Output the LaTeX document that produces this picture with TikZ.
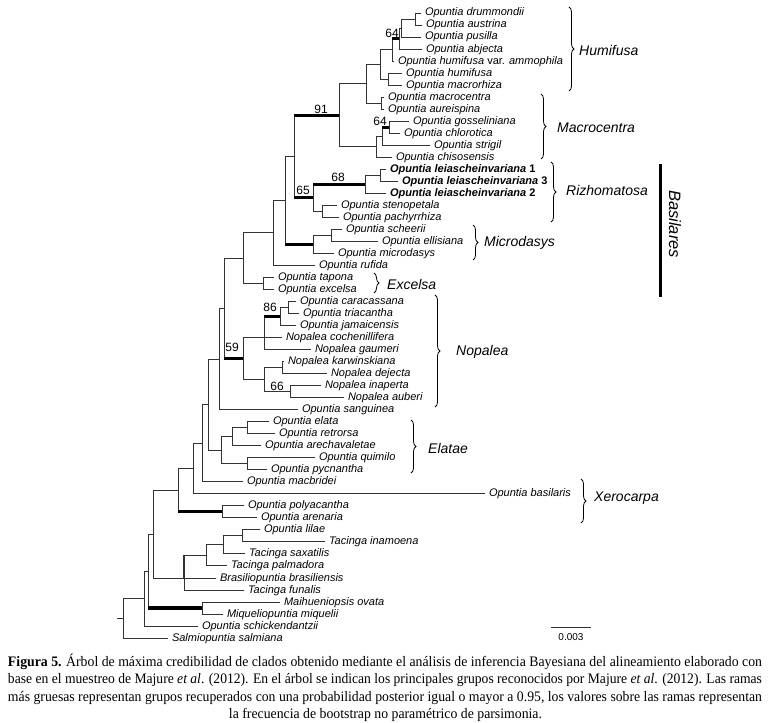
\documentclass[tikz,border=0pt]{standalone}
\usepackage{fontspec}
\usepackage{graphicx}
\usetikzlibrary{decorations.pathreplacing}
\setmainfont{Liberation Serif}
\newfontfamily\tfont{Liberation Sans}
\newcommand\kids[3]{\draw[br] (#1|-#2) -- (#1|-#3); \draw[br] (#1|-#2) -- (#2); \draw[br] (#1|-#3) -- (#3);}
\newcommand\kidsiii[4]{\draw[br] (#1|-#2) -- (#1|-#4); \draw[br] (#1|-#2) -- (#2); \draw[br] (#1|-#3) -- (#3); \draw[br] (#1|-#4) -- (#4);}
\tikzset{
 br/.style={draw=black!80, line width=0.9pt, line cap=rect},
 thk/.style={draw=black, line width=3.2pt},
 tip/.style={anchor=west, inner xsep=4pt, inner ysep=0pt, outer sep=0pt, text height=8pt, text depth=2pt, font=\tfont\fontsize{11}{12}\selectfont\itshape},
 bs/.style={font=\tfont\fontsize{12}{12}\selectfont, inner sep=0pt},
 grp/.style={anchor=west, inner sep=0pt, font=\tfont\fontsize{14}{14}\selectfont\itshape},
 brc/.style={decorate, decoration={brace, amplitude=5pt}, line width=0.8pt},
 capn/.style={inner sep=0pt, font=\fontsize{14.5}{16}\selectfont},
}
\begin{document}
\begin{tikzpicture}[x=1pt,y=-1pt]
\useasboundingbox (0,0) rectangle (775,722);
\fill[white] (0,0) rectangle (775,722);
% tips
\node[tip] (t1) at (421,13.0) {Opuntia drummondii};
\node[tip] (t2) at (422,25.0) {Opuntia austrina};
\node[tip] (t3) at (421,37.0) {Opuntia pusilla};
\node[tip] (t4) at (422,49.1) {Opuntia abjecta};
\node[tip] (t5) at (394,61.1) {Opuntia humifusa {\upshape var.} ammophila};
\node[tip] (t6) at (402,73.1) {Opuntia humifusa};
\node[tip] (t7) at (402,85.1) {Opuntia macrorhiza};
\node[tip] (t8) at (384,97.1) {Opuntia macrocentra};
\node[tip] (t9) at (384,109.2) {Opuntia aureispina};
\node[tip] (t10) at (409,121.2) {Opuntia gosseliniana};
\node[tip] (t11) at (400,133.2) {Opuntia chlorotica};
\node[tip] (t12) at (430,145.2) {Opuntia strigil};
\node[tip] (t13) at (392,157.2) {Opuntia chisosensis};
\node[tip] (t14) at (386,169.3) {\bfseries Opuntia leiascheinvariana {\upshape 1}};
\node[tip] (t15) at (398,181.3) {\bfseries Opuntia leiascheinvariana {\upshape 3}};
\node[tip] (t16) at (386,193.3) {\bfseries Opuntia leiascheinvariana {\upshape 2}};
\node[tip] (t17) at (337,205.3) {Opuntia stenopetala};
\node[tip] (t18) at (339,217.3) {Opuntia pachyrrhiza};
\node[tip] (t19) at (342,229.4) {Opuntia scheerii};
\node[tip] (t20) at (378,241.4) {Opuntia ellisiana};
\node[tip] (t21) at (334,253.4) {Opuntia microdasys};
\node[tip] (t22) at (315,265.4) {Opuntia rufida};
\node[tip] (t23) at (274,277.4) {Opuntia tapona};
\node[tip] (t24) at (274,289.5) {Opuntia excelsa};
\node[tip] (t25) at (296,301.5) {Opuntia caracassana};
\node[tip] (t26) at (299,313.5) {Opuntia triacantha};
\node[tip] (t27) at (296,325.5) {Opuntia jamaicensis};
\node[tip] (t28) at (282,337.5) {Nopalea cochenillifera};
\node[tip] (t29) at (311,349.6) {Nopalea gaumeri};
\node[tip] (t30) at (284,361.6) {Nopalea karwinskiana};
\node[tip] (t31) at (327,373.6) {Nopalea dejecta};
\node[tip] (t32) at (321,385.6) {Nopalea inaperta};
\node[tip] (t33) at (344,397.6) {Nopalea auberi};
\node[tip] (t34) at (298,409.7) {Opuntia sanguinea};
\node[tip] (t35) at (269,421.7) {Opuntia elata};
\node[tip] (t36) at (275,433.7) {Opuntia retrorsa};
\node[tip] (t37) at (261,445.7) {Opuntia arechavaletae};
\node[tip] (t38) at (315,457.8) {Opuntia quimilo};
\node[tip] (t39) at (267,469.8) {Opuntia pycnantha};
\node[tip] (t40) at (243,481.8) {Opuntia macbridei};
\node[tip] (t41) at (485,493.8) {Opuntia basilaris};
\node[tip] (t42) at (244,505.8) {Opuntia polyacantha};
\node[tip] (t43) at (257,517.9) {Opuntia arenaria};
\node[tip] (t44) at (260,529.9) {Opuntia lilae};
\node[tip] (t45) at (325,541.9) {Tacinga inamoena};
\node[tip] (t46) at (245,553.9) {Tacinga saxatilis};
\node[tip] (t47) at (227,565.9) {Tacinga palmadora};
\node[tip] (t48) at (216,578.0) {Brasiliopuntia brasiliensis};
\node[tip] (t49) at (244,590.0) {Tacinga funalis};
\node[tip] (t50) at (280,602.0) {Maihueniopsis ovata};
\node[tip] (t51) at (223,614.0) {Miqueliopuntia miquelii};
\node[tip] (t52) at (198,626.0) {Opuntia schickendantzii};
\node[tip] (t53) at (168,638.1) {Salmiopuntia salmiana};
% internal nodes
\coordinate (a1) at (415,19.0);
\coordinate (a2) at (401,28.0);
\coordinate (a3) at (399,38.55);
\coordinate (a4) at (392,49.8);
\coordinate (a5) at (388,79.1);
\coordinate (a6) at (380,64.45);
\coordinate (b1) at (381,103.15);
\coordinate (a7) at (366,83.8);
\coordinate (b2) at (389,127.2);
\coordinate (b3) at (382,136.2);
\coordinate (b4) at (376,146.7);
\coordinate (a8) at (339,115.25);
\coordinate (c1) at (380,175.3);
\coordinate (c2) at (365,184.3);
\coordinate (c3) at (322,211.3);
\coordinate (c4) at (313,197.8);
\coordinate (s1) at (294,156.5);
\coordinate (d1) at (331,235.4);
\coordinate (d2) at (313,244.4);
\coordinate (s2) at (285,200.45);
\coordinate (s3) at (273,232.9);
\coordinate (e1) at (263,283.45);
\coordinate (s4) at (243,258.2);
\coordinate (f1) at (288,307.5);
\coordinate (f2) at (280,316.5);
\coordinate (f3) at (264,337.5);
\coordinate (f4) at (282,367.6);
\coordinate (f5) at (290,391.6);
\coordinate (f6) at (264,379.6);
\coordinate (f7) at (243,358.55);
\coordinate (s5) at (224,308.4);
\coordinate (s6) at (219,359.05);
\coordinate (g1) at (247,427.7);
\coordinate (g2) at (232,436.7);
\coordinate (g3) at (247,463.8);
\coordinate (g4) at (221,450.25);
\coordinate (s7) at (208,404.65);
\coordinate (s8) at (202,443.2);
\coordinate (s9) at (193,468.5);
\coordinate (h1) at (222,511.85);
\coordinate (s10) at (178,490.2);
\coordinate (i1) at (242,535.9);
\coordinate (i2) at (223,544.9);
\coordinate (i3) at (206,555.4);
\coordinate (i4) at (184,578.0);
\coordinate (s11) at (153,534.1);
\coordinate (j1) at (202,608);
\coordinate (s12) at (148,571.05);
\coordinate (s13) at (144,598.5);
\coordinate (s14) at (123,618.3);
\coordinate (root) at (117,618.3);
% branches
\kids{a1}{t1.west}{t2.west}
\kids{a2}{a1}{t3.west}
\kids{a3}{a2}{t4.west}
\kids{a4}{a3}{t5.west}
\kids{a5}{t6.west}{t7.west}
\kids{a6}{a4}{a5}
\kids{b1}{t8.west}{t9.west}
\kids{a7}{a6}{b1}
\kids{b2}{t10.west}{t11.west}
\kids{b3}{b2}{t12.west}
\kids{b4}{b3}{t13.west}
\kids{a8}{a7}{b4}
\kids{c1}{t14.west}{t15.west}
\kids{c2}{c1}{t16.west}
\kids{c3}{t17.west}{t18.west}
\kids{c4}{c2}{c3}
\kids{s1}{a8}{c4}
\kids{d1}{t19.west}{t20.west}
\kids{d2}{d1}{t21.west}
\kids{s2}{s1}{d2}
\kids{s3}{s2}{t22.west}
\kids{e1}{t23.west}{t24.west}
\kids{s4}{s3}{e1}
\kids{f1}{t25.west}{t26.west}
\kids{f2}{f1}{t27.west}
\kidsiii{f3}{f2}{t28.west}{t29.west}
\kids{f4}{t30.west}{t31.west}
\kids{f5}{t32.west}{t33.west}
\kids{f6}{f4}{f5}
\kids{f7}{f3}{f6}
\kids{s5}{s4}{f7}
\kids{s6}{s5}{t34.west}
\kids{g1}{t35.west}{t36.west}
\kids{g2}{g1}{t37.west}
\kids{g3}{t38.west}{t39.west}
\kids{g4}{g2}{g3}
\kids{s7}{s6}{g4}
\kids{s8}{s7}{t40.west}
\kids{s9}{s8}{t41.west}
\kids{h1}{t42.west}{t43.west}
\kids{s10}{s9}{h1}
\kids{i1}{t44.west}{t45.west}
\kids{i2}{i1}{t46.west}
\kids{i3}{i2}{t47.west}
\kidsiii{i4}{i3}{t48.west}{t49.west}
\kids{s11}{s10}{i4}
\kids{j1}{t50.west}{t51.west}
\kids{s12}{s11}{j1}
\kids{s13}{s12}{t52.west}
\kids{s14}{s13}{t53.west}
\draw[br] (root) -- (s14);
\draw[br, line width=1.8pt, line cap=butt] (i4|-i3) -- (i4);
% thick branches
\draw[thk] (a4|-a3) -- (a3);
\draw[thk] (b3|-b2) -- (b2);
\draw[thk] (s1|-a8) -- (a8);
\draw[thk] (s1|-c4) -- (c4);
\draw[thk] (c4|-c2) -- (c2);
\draw[thk] (s2|-d2) -- (d2);
\draw[thk] (f3|-f2) -- (f2);
\draw[thk] (s5|-f7) -- (f7);
\draw[thk] (s10|-h1) -- (h1);
\draw[thk] (s12|-j1) -- (j1);
% bootstrap values
\node[bs] (n64a) at (392,33) {64};
\node[bs] (n91) at (321,109) {91};
\node[bs] (n64b) at (380,121) {64};
\node[bs] (n68) at (338,177) {68};
\node[bs] (n65) at (303,190) {65};
\node[bs] (n86) at (270,307) {86};
\node[bs] (n59) at (232,347) {59};
\node[bs] (n66) at (277,386) {66};
% braces and group names
\coordinate (hu1) at (569,7); \coordinate (hu2) at (569,91);
\draw[brc] (hu1) -- (hu2);
\node[grp] (ghu) at (579,50) {Humifusa};
\coordinate (ma1) at (541,94); \coordinate (ma2) at (541,159);
\draw[brc] (ma1) -- (ma2);
\node[grp] (gma) at (557,128) {Macrocentra};
\coordinate (ri1) at (551,162); \coordinate (ri2) at (551,222);
\draw[brc] (ri1) -- (ri2);
\node[grp] (gri) at (566,190) {Rizhomatosa};
\coordinate (mi1) at (473,225); \coordinate (mi2) at (473,260);
\draw[brc] (mi1) -- (mi2);
\node[grp] (gmi) at (484,243) {Microdasys};
\coordinate (ex1) at (374,273); \coordinate (ex2) at (374,293);
\draw[brc] (ex1) -- (ex2);
\node[grp] (gex) at (387,284) {Excelsa};
\coordinate (no1) at (435,295); \coordinate (no2) at (435,407);
\draw[brc] (no1) -- (no2);
\node[grp] (gno) at (456,352) {Nopalea};
\coordinate (el1) at (411,420); \coordinate (el2) at (411,473);
\draw[brc] (el1) -- (el2);
\node[grp] (gel) at (428,448) {Elatae};
\coordinate (xe1) at (581,479); \coordinate (xe2) at (581,523);
\draw[brc] (xe1) -- (xe2);
\node[grp] (gxe) at (594,498) {Xerocarpa};
% Basilares
\coordinate (bt) at (660,164); \coordinate (bb) at (660,297);
\draw[line width=3pt] (bt) -- (bb);
\node[rotate=-90, inner sep=0pt, font=\tfont\fontsize{16.5}{16.5}\selectfont\itshape] (gba) at (675,224) {Basilares};
% scale bar
\coordinate (sb1) at (551,627); \coordinate (sb2) at (591,627);
\draw[br] (sb1) -- (sb2);
\node[inner sep=0pt, font=\tfont\fontsize{10}{10}\selectfont] (sbl) at (571,637) {0.003};
% caption
\node[capn] (cap1) at (385,662) {\resizebox{754pt}{\height}{\textbf{Figura 5.} Árbol de máxima credibilidad de clados obtenido mediante el análisis de inferencia Bayesiana del alineamiento elaborado con}};
\node[capn] (cap2) at (385,680) {\resizebox{754pt}{\height}{base en el muestreo de Majure \textit{et al}. (2012). En el árbol se indican los principales grupos reconocidos por Majure \textit{et al}. (2012). Las ramas}};
\node[capn] (cap3) at (385,698) {\resizebox{754pt}{\height}{más gruesas representan grupos recuperados con una probabilidad posterior igual o mayor a 0.95, los valores sobre las ramas representan}};
\node[capn] (cap4) at (385.5,715) {\resizebox{313pt}{\height}{la frecuencia de bootstrap no paramétrico de parsimonia.}};
\end{tikzpicture}
\end{document}
